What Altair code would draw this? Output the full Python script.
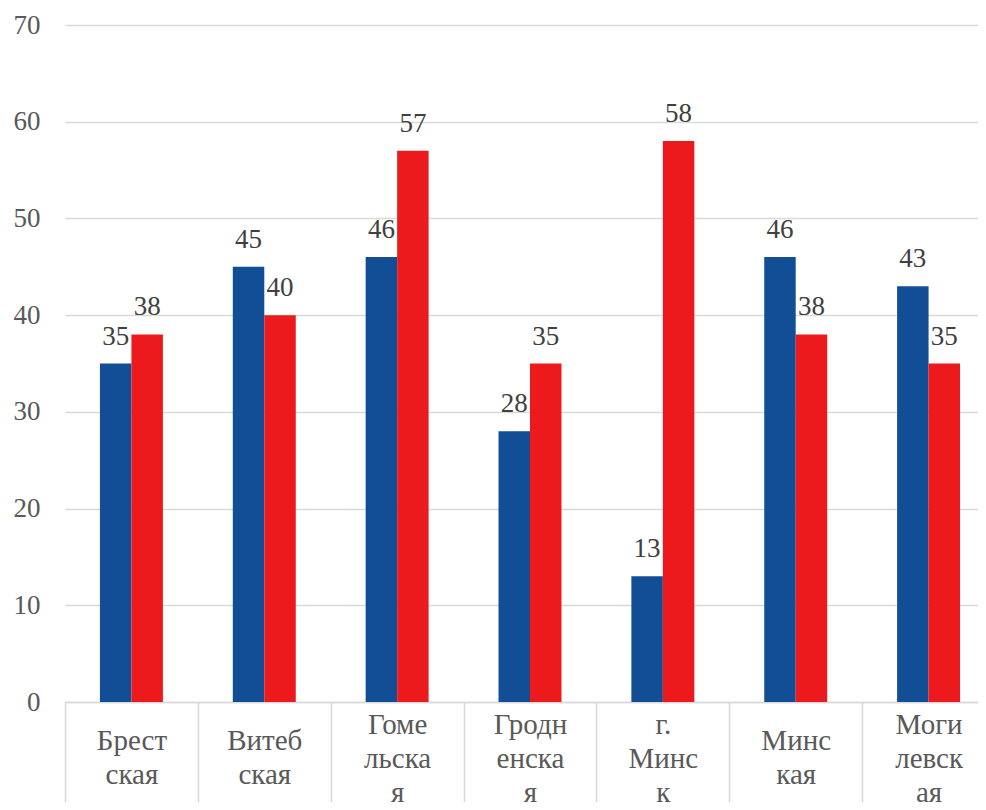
import json
import altair as alt
import pandas as pd

categories = ["Брестская", "Витебская", "Гомельская", "Гродненская", "г. Минск", "Минская", "Могилевская"]
tick_labels = [["Брест", "ская"], ["Витеб", "ская"], ["Гоме", "льска", "я"], ["Гродн", "енска", "я"],
               ["г.", "Минс", "к"], ["Минс", "кая"], ["Моги", "левск", "ая"]]
series_names = ["Ряд 1", "Ряд 2"]
series_1 = [35, 45, 46, 28, 13, 46, 43]
series_2 = [38, 40, 57, 35, 58, 38, 35]
colors = ["#114e96", "#ec1a1c"]
y_ticks = [0, 10, 20, 30, 40, 50, 60, 70]

rows = []
for c, a, b in zip(categories, series_1, series_2):
    rows.append({"region": c, "series": series_names[0], "value": a})
    rows.append({"region": c, "series": series_names[1], "value": b})
df = pd.DataFrame(rows)

label_map = json.dumps(dict(zip(categories, tick_labels)), ensure_ascii=False)
label_expr = f"({label_map})[datum.value]"
three_line = json.dumps([c for c, t in zip(categories, tick_labels) if len(t) == 3], ensure_ascii=False)

FONT = "Times New Roman"
GRID = "#d9d9d9"
# empty slots on both sides of each pair of bars (gap inside a category)
offset_domain = ["_gap_left"] + series_names + ["_gap_right"]

base = alt.Chart(df).encode(
    x=alt.X(
        "region:N",
        sort=categories,
        scale=alt.Scale(paddingInner=0, paddingOuter=0, range=[0, 930]),
        axis=alt.Axis(
            title=None, labelAngle=0, labelExpr=label_expr, labelFont=FONT, labelFontSize=29,
            labelColor="#595959", labelBaseline="middle", labelLineHeight=34,
            labelPadding={"condition": {"test": f"indexof({three_line}, datum.value) >= 0", "value": -88},
                          "value": -72},
            tickBand="extent", tickSize=110, tickColor=GRID, tickWidth=1.5,
            domainColor=GRID, domainWidth=1.5, labelLimit=0,
        ),
    ),
    xOffset=alt.XOffset("series:N",
                        scale=alt.Scale(domain=offset_domain, paddingInner=0, paddingOuter=0.11)),
    y=alt.Y(
        "value:Q",
        scale=alt.Scale(domain=[0, 70]),
        axis=alt.Axis(
            title=None, values=y_ticks, grid=True, gridColor=GRID, gridWidth=1.5, domain=False,
            ticks=False, labelFont=FONT, labelFontSize=27, labelColor="#595959", labelPadding=25,
        ),
    ),
)

bars = base.mark_bar().encode(
    color=alt.Color("series:N", sort=series_names,
                    scale=alt.Scale(domain=series_names, range=colors), legend=None)
)
text = base.mark_text(dy=-19, baseline="alphabetic", font=FONT, fontSize=27, color="#404040").encode(
    text=alt.Text("value:Q")
)

chart = (
    alt.layer(bars, text)
    .properties(width=913, height=677, padding={"left": 57, "top": 17, "right": 0, "bottom": 100},
                autosize=alt.AutoSizeParams(type="none"))
    .configure(font=FONT)
    .configure_view(stroke=None)
)

chart.save("out.html", embed_options={"renderer": "svg", "actions": False})
